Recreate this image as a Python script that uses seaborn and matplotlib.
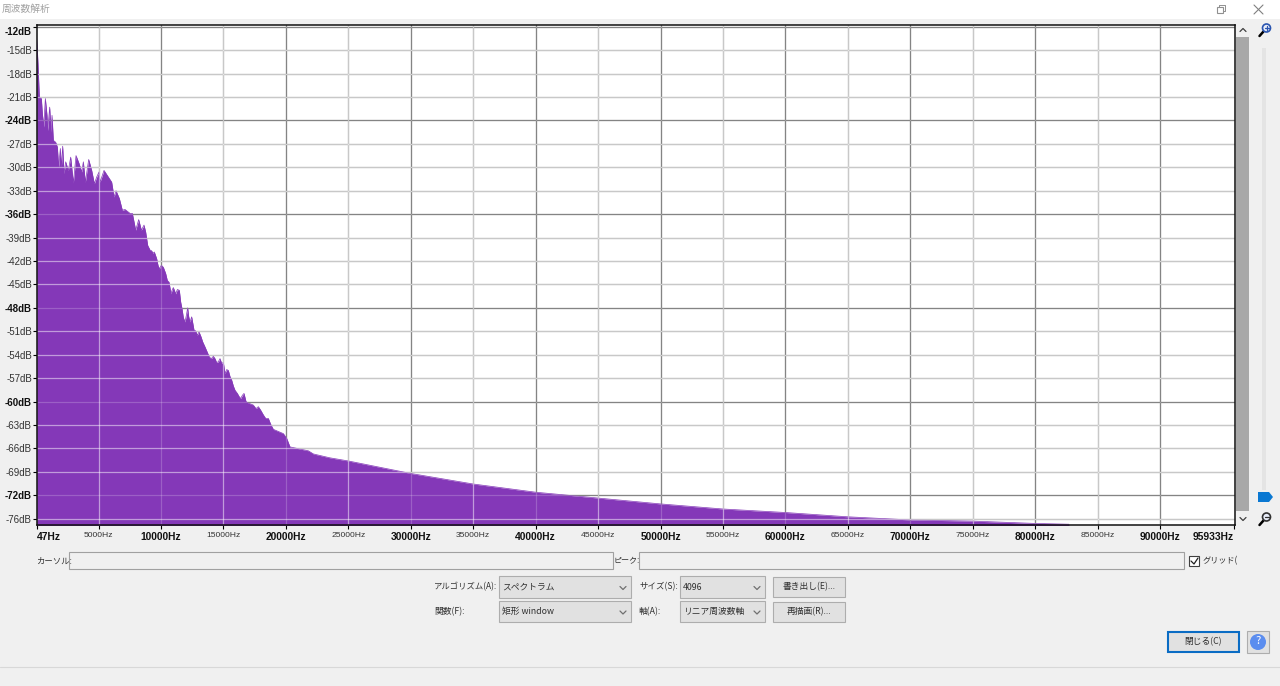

import matplotlib
matplotlib.use("Agg")
import matplotlib.pyplot as plt
from matplotlib.patches import Rectangle, Circle, Polygon
import pandas as pd
import seaborn as sns

# Espectro (Hz, dB)
freq_hz = [47, 47, 152, 258, 419, 499, 605, 739, 872, 926, 1086, 1193, 1273, 1379, 1566, 1700, 1807, 1940,
           2020, 2127, 2234, 2367, 2581, 2767, 2981, 3194, 3434, 3648, 3782, 3942, 4209, 4449, 4662, 4849,
           5036, 5116, 5436, 5783, 6050, 6237, 6397, 6664, 6904, 7118, 7518, 7705, 7972, 8212, 8426, 8639,
           8773, 8933, 9253, 9466, 9653, 9867, 10187, 10374, 10641, 10801, 10988, 11175, 11468, 11682, 11922,
           12135, 12322, 12456, 12643, 12909, 13203, 13523, 13870, 14191, 14458, 14725, 14992, 15125, 15392,
           15659, 15926, 16379, 16646, 16806, 17394, 17794, 18194, 18594, 18995, 19796, 20062, 20329, 21797,
           22197, 23532, 25000, 30000, 35000, 40000, 45000, 50000, 55000, 60000, 65000, 70000, 75000, 80000, 82700]
level_db = [-11.9, -13.5, -16.75, -21.0, -21.2, -23.1, -24.85, -21.2, -23.35, -25.3, -22.3, -25.5, -23.35, -26.55,
            -26.8, -27.4, -30.0, -27.6, -30.0, -27.3, -30.8, -29.3, -30.4, -28.7, -32.0, -28.5, -29.5, -30.6,
            -29.3, -31.9, -29.0, -30.4, -32.1, -31.25, -30.6, -31.9, -30.4, -31.25, -31.9, -33.8, -33.0, -34.0,
            -35.5, -35.4, -35.9, -35.9, -38.05, -36.7, -38.05, -37.4, -38.3, -40.0, -40.7, -40.85, -41.7, -43.0,
            -42.8, -43.6, -44.7, -46.2, -45.4, -46.2, -45.75, -48.1, -49.8, -48.0, -49.8, -49.15, -50.85, -51.5,
            -51.7, -53.0, -54.3, -54.2, -55.0, -54.5, -55.0, -56.4, -56.0, -57.25, -58.55, -59.6, -58.95, -60.0,
            -60.45, -60.65, -61.7, -62.15, -63.55, -64.1, -64.7, -65.8, -66.3, -66.7, -67.2, -67.6, -69.2, -70.55,
            -71.6, -72.35, -73.1, -73.75, -74.2, -74.75, -75.15, -75.3, -75.6, -75.7]
# dentes menores da descida, lidos depois
dentes_hz = [9120, 9360, 9760, 10027, 10507, 10881, 11308, 11575, 11789, 12029, 12216, 12776, 13043, 13337,
             14030, 14324, 14591, 14858, 15258, 15525, 15792, 16113, 16273, 16513, 16993, 17180, 17607, 17981,
             18381, 18781]
dentes_db = [-40.6, -41.0, -42.55, -42.55, -44.5, -45.75, -45.65, -47.25, -49.25, -48.95, -49.1, -50.95, -51.07, -52.35,
             -54.5, -54.5, -54.9, -55.1, -55.9, -56.8, -58.0, -58.95, -59.4, -59.2, -60.2, -60.3, -60.9, -61.1,
             -62.15, -62.9]

x_ticks = [47, 5000, 10000, 15000, 20000, 25000, 30000, 35000, 40000, 45000, 50000, 55000, 60000, 65000,
           70000, 75000, 80000, 85000, 90000, 95933]
x_labels = ["47Hz", "5000Hz", "10000Hz", "15000Hz", "20000Hz", "25000Hz", "30000Hz", "35000Hz", "40000Hz",
            "45000Hz", "50000Hz", "55000Hz", "60000Hz", "65000Hz", "70000Hz", "75000Hz", "80000Hz", "85000Hz",
            "90000Hz", "95933Hz"]
# a última marca fica em -75 na imagem, embora o rótulo diga -76dB
y_ticks = [-12, -15, -18, -21, -24, -27, -30, -33, -36, -39, -42, -45, -48, -51, -54, -57, -60, -63, -66, -69, -72, -75]
y_labels = ["-12dB", "-15dB", "-18dB", "-21dB", "-24dB", "-27dB", "-30dB", "-33dB", "-36dB", "-39dB", "-42dB",
            "-45dB", "-48dB", "-51dB", "-54dB", "-57dB", "-60dB", "-63dB", "-66dB", "-69dB", "-72dB", "-76dB"]

roxo = "#8438b8"
fundo = "#f0f0f0"
W, H = 1280, 686

sns.set_theme(style="white")
plt.rcParams["font.family"] = ["Noto Sans CJK JP", "DejaVu Sans"]

fig = plt.figure(figsize=(W / 100, H / 100), dpi=100, facecolor=fundo)

### Camada de janela, em pixels
ui = fig.add_axes([0, 0, 1, 1], zorder=0)
ui.set_xlim(0, W)
ui.set_ylim(H, 0)
ui.axis("off")


def caixa(x0, y0, x1, y1, face="#e1e1e1", borda="#adadad", lw=0.8):
    ui.add_patch(Rectangle((x0, y0), x1 - x0, y1 - y0, facecolor=face, edgecolor=borda, linewidth=lw))


def texto(x, y, s, size=6.3, cor="#303030", ha="left"):
    ui.text(x, y, s, fontsize=size, color=cor, ha=ha, va="center")


def seta(x, y, cima=False, cor="#707070", d=3):
    m = -1.5 if cima else 1.5
    ui.plot([x - d, x, x + d], [y - m, y + m, y - m], color=cor, lw=0.9)


def combo(x0, y0, x1, y1, s):
    caixa(x0, y0, x1, y1)
    texto(x0 + 3, (y0 + y1) / 2, s)
    seta(x1 - 8, (y0 + y1) / 2 + 1)


def lupa(x, y, cor="#2a55b0", mais=False):
    ui.add_patch(Circle((x + 1.5, y - 2), 4.0, facecolor="#e8ecf8", edgecolor=cor, linewidth=1.2, zorder=3))
    ui.plot([x - 5.5, x - 1.5], [y + 6, y + 1.5], color="black", lw=1.8, zorder=2)
    ui.plot([x - 0.5, x + 3.5], [y - 2, y - 2], color=cor, lw=0.9, zorder=4)
    if mais:
        ui.plot([x + 1.5, x + 1.5], [y - 4, y], color=cor, lw=0.9, zorder=4)


# barra de título
ui.add_patch(Rectangle((0, 0), W, 19, facecolor="white", edgecolor="none"))
texto(2, 9, "周波数解析", size=7, cor="#a0a0a0")
caixa(1217, 7, 1223, 13, face="white", borda="#909090")
ui.plot([1218.5, 1218.5, 1225, 1225, 1223], [7, 5, 5, 11, 11], color="#909090", lw=0.7)
ui.plot([1254, 1263], [5, 14], color="#808080", lw=0.8)
ui.plot([1254, 1263], [14, 5], color="#808080", lw=0.8)

# barra de rolagem e zoom
ui.add_patch(Rectangle((1236, 37), 13, 474, facecolor="#a8a8a8", edgecolor="none"))
seta(1243, 30, cima=True, cor="#404040")
seta(1243, 519, cor="#404040")
ui.add_patch(Rectangle((1262, 48), 4, 442, facecolor="#e4e4e4", edgecolor="none"))
ui.add_patch(Polygon([(1258, 492), (1269, 492), (1273, 497), (1269, 502), (1258, 502)], facecolor="#0a78d2", edgecolor="none"))
lupa(1265, 30, mais=True)
lupa(1265, 519, cor="#303030")

# controles de baixo
texto(36, 561, "カーソル:", size=6)
caixa(69, 552, 613, 569, face=fundo, borda="#a0a0a0")
texto(614, 561, "ピーク:", size=5.8)
caixa(639, 552, 1184, 569, face=fundo, borda="#a0a0a0")
caixa(1189, 556, 1199, 566, face="white", borda="#404040")
ui.plot([1191, 1194, 1198], [561, 564, 558], color="#202020", lw=0.9)
texto(1203, 561, "グリッド(", size=5.9)

texto(434, 587, "アルゴリズム(A):", size=6)
combo(499, 576, 631, 598, "スペクトラム")
texto(639, 587, "サイズ(S):", size=6.1)
combo(680, 576, 765, 598, "4096")
caixa(773, 577, 845, 597)
texto(809, 587, "書き出し(E)...", ha="center")

texto(434, 612, "関数(F):")
combo(499, 601, 631, 622, "矩形 window")
texto(639, 612, "軸(A):")
combo(680, 601, 765, 622, "リニア周波数軸")
caixa(773, 602, 845, 622)
texto(809, 612, "再描画(R)...", ha="center")

caixa(1168, 632, 1239, 652, borda="#0a6cc4", lw=1.5)
texto(1203, 642, "閉じる(C)", ha="center")
caixa(1247, 631, 1269, 653)
ui.add_patch(Circle((1258, 642), 8, facecolor="#5b8def", edgecolor="none"))
texto(1258, 641, "?", size=8, cor="white", ha="center")
ui.plot([0, W], [667, 667], color="#d8d8d8", lw=0.8)

### Espectro
ax = fig.add_axes([36.5 / W, 1 - 525 / H, (1235 - 36.5) / W, (525 - 24.5) / H], zorder=1)
ax.set_facecolor("white")
dados = pd.concat([
    pd.DataFrame({"freq": freq_hz, "db": level_db}),
    pd.DataFrame({"freq": dentes_hz, "db": dentes_db}),
]).sort_values("freq", kind="stable")
sns.lineplot(data=dados, x="freq", y="db", color=roxo, linewidth=0.5, estimator=None, sort=False, ax=ax, zorder=2)
ax.fill_between(dados["freq"], dados["db"], -80, color=roxo, linewidth=0, zorder=2)

ax.set_xlim(30, 96000)
ax.set_ylim(-75.8, -11.72)
ax.set_xlabel("")
ax.set_ylabel("")

# a grade é translúcida no roxo: linha branca com alpha em cima de uma cinza mais escura
# (no fundo branco o resultado dá #c8c8c8 e #858585)
for t in x_ticks[1:-1]:
    forte = t % 10000 == 0
    ax.axvline(t, color="#666666" if forte else "#919191", lw=0.9, zorder=1)
    ax.axvline(t, color="white", alpha=0.2 if forte else 0.5, lw=0.9, zorder=3)
for t in y_ticks:
    forte = t % 12 == 0
    ax.axhline(t, color="#666666" if forte else "#919191", lw=0.9, zorder=1)
    ax.axhline(t, color="white", alpha=0.2 if forte else 0.5, lw=0.9, zorder=3)

ax.set_xticks(x_ticks)
ax.set_xticklabels(x_labels)
ax.set_yticks(y_ticks)
ax.set_yticklabels(y_labels)
ax.tick_params(axis="both", length=3, width=0.8, color="black", left=True, bottom=True, pad=0.3)
ax.tick_params(axis="x", pad=1.8)

for t, rot in zip(x_ticks, ax.get_xticklabels()):
    forte = t % 10000 == 0 or t in (47, 95933)
    rot.set_family("Liberation Sans")
    rot.set_color("#111111" if forte else "#333333")
    rot.set_fontweight("bold" if forte else "normal")
    rot.set_fontsize(7.4 if forte else 6.1)
ax.get_xticklabels()[0].set_ha("left")
ax.get_xticklabels()[-1].set_ha("right")

for t, rot in zip(y_ticks, ax.get_yticklabels()):
    forte = t % 12 == 0
    rot.set_family("Liberation Sans")
    rot.set_color("#111111" if forte else "#333333")
    rot.set_fontweight("bold" if forte else "normal")
    rot.set_fontsize(7)
ax.get_yticklabels()[0].set_va("top")

for lado in ax.spines.values():
    lado.set_visible(True)
    lado.set_color("#101010")
    lado.set_linewidth(1.1)
    lado.set_zorder(5)

fig.savefig("out.png", dpi=100, facecolor=fundo)
